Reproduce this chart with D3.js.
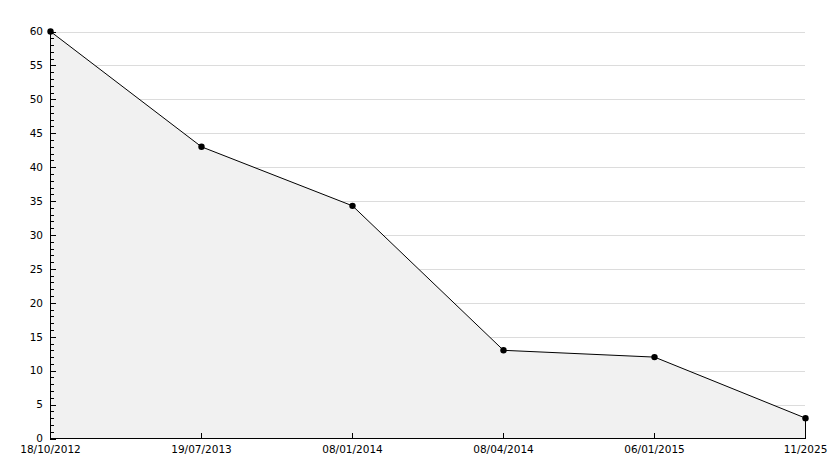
<!DOCTYPE html>
<head>
  <meta charset="utf-8">
  <script src="https://d3js.org/d3.v7.min.js"></script>
  <style>
    body { margin:0; background:#fff; }
    text { font-family: "DejaVu Sans", sans-serif; font-size: 10.5px; fill: #000; }
  </style>
</head>
<body>
  <script>
    var dates = ["18/10/2012", "19/07/2013", "08/01/2014", "08/04/2014", "06/01/2015", "11/2025"];
    var values = [60, 43, 34.3, 13, 12, 3];
    var yTicks = [0, 5, 10, 15, 20, 25, 30, 35, 40, 45, 50, 55, 60];

    var data = dates.map(function(d, i) { return { x: d, y: values[i] }; });

    var svg = d3.select("body").append("svg")
      .attr("width", 834)
      .attr("height", 468);

    var x = d3.scalePoint()
      .domain(dates)
      .range([50.5, 805.5]);

    var y = d3.scaleLinear()
      .domain([0, 60])
      .range([438.5, 31.5]);

    // grid
    svg.append("g")
      .selectAll("line")
      .data(yTicks.filter(function(d) { return d > 0; }))
      .enter().append("line")
      .attr("x1", 50).attr("x2", 805)
      .attr("y1", function(d) { return Math.round(y(d)) + 0.5; })
      .attr("y2", function(d) { return Math.round(y(d)) + 0.5; })
      .attr("stroke", "#dcdcdc");

    // area
    var area = d3.area()
      .x(function(d) { return x(d.x); })
      .y0(y(0))
      .y1(function(d) { return y(d.y); });

    svg.append("path")
      .datum(data)
      .attr("d", area)
      .attr("fill", "#f1f1f1");

    var line = d3.line()
      .x(function(d) { return x(d.x); })
      .y(function(d) { return y(d.y); });

    svg.append("path")
      .datum(data)
      .attr("d", line)
      .attr("fill", "none")
      .attr("stroke", "#000")
      .attr("stroke-width", 1);

    // closing edge at last point
    var last = data[data.length - 1];
    svg.append("line")
      .attr("x1", x(last.x)).attr("x2", x(last.x))
      .attr("y1", y(last.y)).attr("y2", y(0))
      .attr("stroke", "#000");

    // y axis with minor ticks
    var yAxis = svg.append("g");
    yAxis.append("line")
      .attr("x1", 50.5).attr("x2", 50.5)
      .attr("y1", y(60)).attr("y2", y(0))
      .attr("stroke", "#000");
    yAxis.selectAll(".minor")
      .data(d3.range(0, 61))
      .enter().append("line")
      .attr("x1", 50)
      .attr("x2", function(d) { return d % 5 === 0 ? 56 : 54; })
      .attr("y1", function(d) { return Math.round(y(d)) + 0.5; })
      .attr("y2", function(d) { return Math.round(y(d)) + 0.5; })
      .attr("stroke", "#000");
    yAxis.selectAll("text")
      .data(yTicks)
      .enter().append("text")
      .attr("x", 43)
      .attr("y", function(d) { return y(d); })
      .attr("dy", "0.36em")
      .attr("text-anchor", "end")
      .text(function(d) { return d; });

    // x axis
    var xAxis = svg.append("g");
    xAxis.append("line")
      .attr("x1", 50).attr("x2", 806)
      .attr("y1", 438.5).attr("y2", 438.5)
      .attr("stroke", "#000");
    xAxis.selectAll(".tick")
      .data(dates)
      .enter().append("line")
      .attr("x1", function(d) { return x(d); })
      .attr("x2", function(d) { return x(d); })
      .attr("y1", 438).attr("y2", 433)
      .attr("stroke", "#000");
    xAxis.selectAll("text")
      .data(dates)
      .enter().append("text")
      .attr("x", function(d) { return x(d); })
      .attr("y", 453)
      .attr("text-anchor", "middle")
      .text(function(d) { return d; });

    // markers
    svg.selectAll(".dot")
      .data(data)
      .enter().append("circle")
      .attr("cx", function(d) { return x(d.x); })
      .attr("cy", function(d) { return y(d.y); })
      .attr("r", 3.2)
      .attr("fill", "#000");
  </script>
</body>
